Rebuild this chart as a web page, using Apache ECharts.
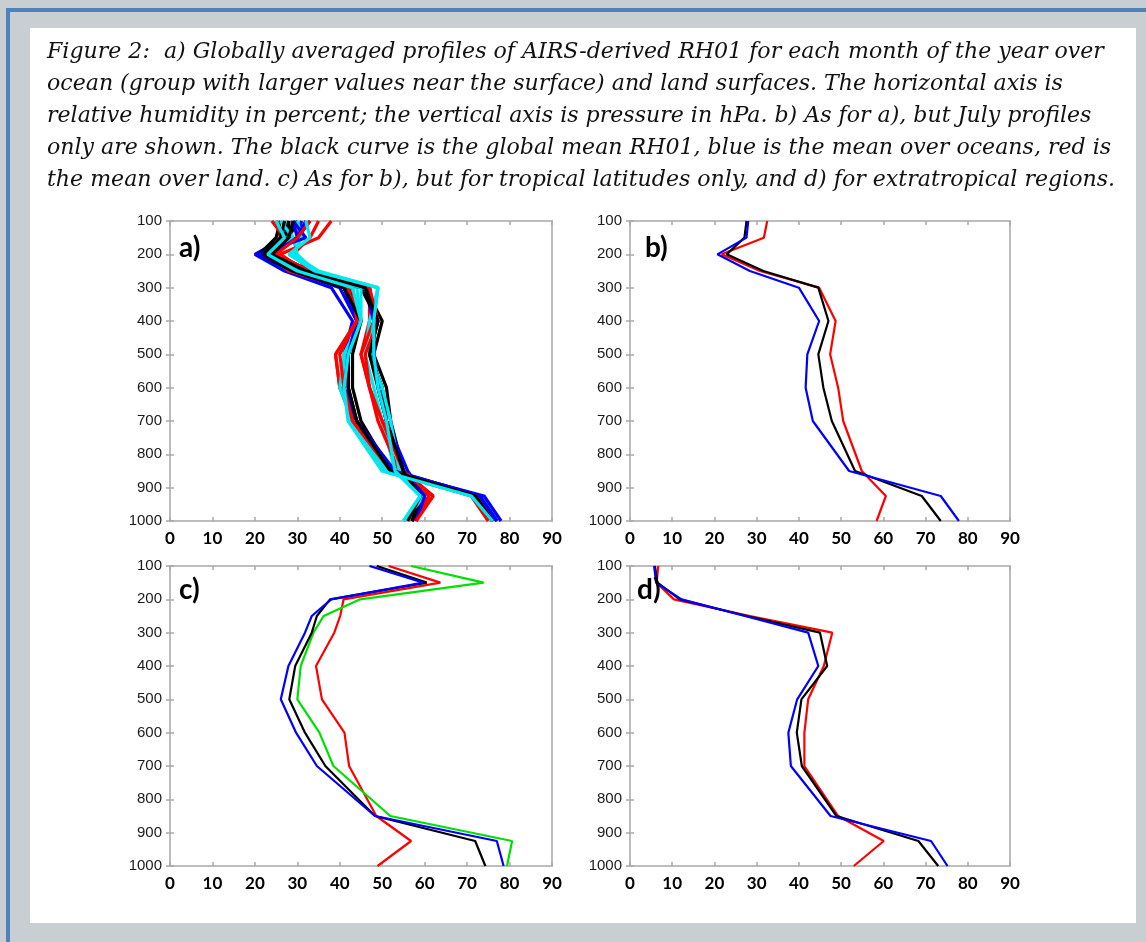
<!DOCTYPE html>
<html>
<head>
<meta charset="utf-8">
<title>AIRS RH01 profiles</title>
<script src="https://cdn.jsdelivr.net/npm/echarts@6/dist/echarts.min.js"></script>
<style>
  html, body { margin: 0; padding: 0; background: #fff; }
  #main { width: 1146px; height: 942px; }
</style>
</head>
<body>
<div id="main"></div>
<script>
// pressure levels of every profile (hPa), top to bottom
const levels = [100, 150, 200, 250, 300, 400, 500, 600, 700, 850, 925, 1000]

// a) monthly global-mean profiles over ocean (RH %, one row per month)
const oceanMonths = [
  [27, 27, 20, 27, 38, 43, 41, 41, 43, 52, 74, 78],
  [25, 26, 23, 28, 41, 44, 39, 40, 43, 51, 72, 76],
  [26, 25, 21, 29, 42, 45, 42, 42, 44, 52, 72, 76],
  [24, 28, 24, 30, 44, 45, 41, 41, 42, 50, 71, 75],
  [29, 30, 21, 29, 40, 44, 42, 42, 43, 53, 73, 77],
  [24, 27, 22, 29, 42, 44, 39, 40, 44, 51, 71, 75],
  [28, 28, 21, 29, 41, 45, 43, 43, 45, 52, 72, 76],
  [26, 29, 24, 31, 45, 45, 41, 40, 43, 51, 72, 76],
  [29, 32, 21, 30, 41, 44, 42, 41, 44, 53, 73, 77],
  [25, 27, 24, 30, 43, 44, 40, 41, 43, 52, 72, 76],
  [27, 26, 22, 29, 41, 45, 42, 42, 44, 52, 72, 76],
  [25, 27, 23, 30, 43, 45, 42, 41, 42, 50, 71, 76]
]
// a) monthly profiles over land
const landMonths = [
  [31, 30, 24, 32, 47, 48, 47, 50, 51, 55, 59, 58],
  [35, 33, 29, 33, 47, 47, 45, 47, 50, 55, 62, 57],
  [30, 28, 25, 33, 46, 50, 48, 51, 52, 55, 59, 57],
  [27, 29, 30, 34, 49, 47, 46, 48, 50, 53, 59, 55],
  [33, 30, 23, 31, 46, 48, 48, 49, 51, 56, 60, 58],
  [38, 35, 26, 32, 47, 48, 45, 47, 49, 54, 61, 57],
  [28, 27, 23, 31, 45, 49, 47, 50, 51, 55, 60, 57],
  [30, 31, 29, 35, 49, 48, 47, 50, 52, 54, 60, 55],
  [32, 30, 24, 32, 47, 48, 48, 49, 51, 55, 60, 58],
  [33, 30, 25, 33, 47, 49, 46, 47, 50, 55, 62, 58],
  [29, 28, 24, 32, 46, 49, 47, 49, 51, 55, 59, 56],
  [32, 33, 28, 34, 49, 48, 48, 49, 51, 53, 59, 55]
]
const monthColors = ['#0000ff', '#ff0000', '#000000', '#00e8f0']

// b) July
const julyGlobal = [27.6, 27.1, 22.9, 31.6, 44.6, 47.0, 44.6, 45.8, 47.8, 53.3, 69.1, 73.6]
const julyOcean = [28.0, 27.6, 20.7, 28.4, 40.0, 44.8, 42.0, 41.6, 43.3, 51.9, 73.6, 77.9]
const julyLand = [32.5, 31.7, 21.7, 30.8, 44.8, 48.7, 47.4, 49.3, 50.5, 54.9, 60.6, 58.4]

// c) tropics
const tropGlobal = [48.7, 60.5, 37.7, 34.6, 33.4, 29.5, 28.1, 31.8, 36.6, 48.3, 71.9, 74.3]
const tropOcean = [47.0, 59.7, 38.0, 33.4, 31.8, 27.9, 26.1, 29.7, 34.6, 48.3, 77.0, 78.6]
const tropLand = [51.5, 63.7, 40.9, 40.1, 38.7, 34.4, 35.8, 41.1, 42.2, 48.6, 56.8, 48.9]
const tropGreen = [56.8, 73.9, 44.8, 36.2, 33.8, 30.8, 30.0, 35.2, 38.5, 51.9, 80.6, 79.4]

// d) extratropics
const extraGlobal = [5.9, 6.5, 11.8, 27.6, 45.0, 46.7, 40.6, 39.5, 40.7, 48.9, 68.3, 73.0]
const extraOcean = [5.7, 6.2, 12.2, 27.2, 42.2, 44.6, 39.6, 37.5, 38.1, 47.5, 71.3, 75.2]
const extraLand = [6.7, 6.3, 10.4, 28.4, 47.9, 45.9, 42.2, 41.3, 41.3, 49.3, 60.1, 53.0]

const panelLabels = ['a)', 'b)', 'c)', 'd)']
const captionLines = [
  'Figure 2:  a) Globally averaged profiles of AIRS-derived RH01 for each month of the year over',
  'ocean (group with larger values near the surface) and land surfaces. The horizontal axis is',
  'relative humidity in percent; the vertical axis is pressure in hPa. b) As for a), but July profiles',
  'only are shown. The black curve is the global mean RH01, blue is the mean over oceans, red is',
  'the mean over land. c) As for b), but for tropical latitudes only, and d) for extratropical regions.'
]

const grids = [
  { left: 170, top: 221, width: 382, height: 300 },
  { left: 630, top: 221, width: 380, height: 300 },
  { left: 170, top: 566, width: 382, height: 300 },
  { left: 630, top: 566, width: 380, height: 300 }
]

const tickStyle = { show: true, inside: true, length: 4, lineStyle: { color: '#a8a8a8', width: 1.5 } }

let xAxes = []
let yAxes = []
grids.forEach((g, i) => {
  xAxes.push({
    gridIndex: i, type: 'value', min: 0, max: 90, interval: 10, position: 'bottom',
    axisLine: { show: false }, axisTick: tickStyle, splitLine: { show: false },
    axisLabel: { fontFamily: 'Lato', fontWeight: 'bold', fontSize: 17, color: '#000', margin: 9 }
  })
  yAxes.push({
    gridIndex: i, type: 'value', inverse: true, min: 100, max: 1000, interval: 100, position: 'left',
    axisLine: { show: false }, axisTick: tickStyle, splitLine: { show: false },
    axisLabel: {
      fontFamily: 'Liberation Sans', fontSize: 15, color: '#1a1a1a', margin: 8,
      formatter: v => String(v)
    }
  })
})
// tick-only axes on the top and right of each box
grids.forEach((g, i) => {
  xAxes.push({
    gridIndex: i, type: 'value', min: 0, max: 90, interval: 10, position: 'top',
    axisLine: { show: false }, axisTick: tickStyle, axisLabel: { show: false }, splitLine: { show: false }
  })
  yAxes.push({
    gridIndex: i, type: 'value', inverse: true, min: 100, max: 1000, interval: 100, position: 'right',
    axisLine: { show: false }, axisTick: tickStyle, axisLabel: { show: false }, splitLine: { show: false }
  })
})

function profile(rh, color, panel, width) {
  return {
    type: 'line',
    xAxisIndex: panel,
    yAxisIndex: panel,
    data: rh.map((v, k) => [v, levels[k]]),
    symbol: 'none',
    silent: true,
    lineStyle: { color: color, width: width }
  }
}

let series = []
for (let m = 0; m < 12; m++) {
  let c = monthColors[m % monthColors.length]
  series.push(profile(landMonths[m], c, 0, 3.2))
  series.push(profile(oceanMonths[m], c, 0, 3.2))
}
series.push(profile(julyLand, '#ff0000', 1, 2.2))
series.push(profile(julyGlobal, '#000000', 1, 2.2))
series.push(profile(julyOcean, '#0000ff', 1, 2.2))
series.push(profile(tropLand, '#ff0000', 2, 2.2))
series.push(profile(tropGreen, '#00e000', 2, 2.2))
series.push(profile(tropGlobal, '#000000', 2, 2.2))
series.push(profile(tropOcean, '#0000ff', 2, 2.2))
series.push(profile(extraLand, '#ff0000', 3, 2.2))
series.push(profile(extraGlobal, '#000000', 3, 2.2))
series.push(profile(extraOcean, '#0000ff', 3, 2.2))

// fit the caption font to the width of the last line
const capFamily = '"DejaVu Serif", serif'
let ctx = document.createElement('canvas').getContext('2d')
ctx.font = 'italic 20px ' + capFamily
let capSize = 20 * 1068 / ctx.measureText(captionLines[4]).width

let graphics = [
  { type: 'rect', z: -10, shape: { x: 0, y: 0, width: 1146, height: 942 }, style: { fill: '#c9ced3' } },
  { type: 'rect', z: -9, shape: { x: 6, y: 8, width: 1140, height: 4 }, style: { fill: '#4f81bd' } },
  { type: 'rect', z: -9, shape: { x: 6, y: 8, width: 4, height: 934 }, style: { fill: '#4f81bd' } },
  { type: 'rect', z: -8, shape: { x: 30, y: 28, width: 1106, height: 895 }, style: { fill: '#ffffff' } }
]
captionLines.forEach((t, i) => {
  graphics.push({
    type: 'text', left: 47, top: 41 + i * 32,
    style: { text: t, font: 'italic ' + capSize.toFixed(2) + 'px ' + capFamily, fill: '#111' }
  })
})
const labelPos = [[179, 234], [645, 234], [179, 576], [637, 576]]
panelLabels.forEach((t, i) => {
  graphics.push({
    type: 'text', left: labelPos[i][0], top: labelPos[i][1], z: 10,
    style: { text: t, font: 'bold 28px Lato', fill: '#000' }
  })
})

let myChart = echarts.init(document.getElementById('main'))
let option = {
  animation: false,
  backgroundColor: '#ffffff',
  grid: grids.map(g => Object.assign({ show: true, borderColor: '#bdbdbd', borderWidth: 2, backgroundColor: 'transparent' }, g)),
  xAxis: xAxes,
  yAxis: yAxes,
  graphic: graphics,
  series: series
}
myChart.setOption(option)
</script>
</body>
</html>
